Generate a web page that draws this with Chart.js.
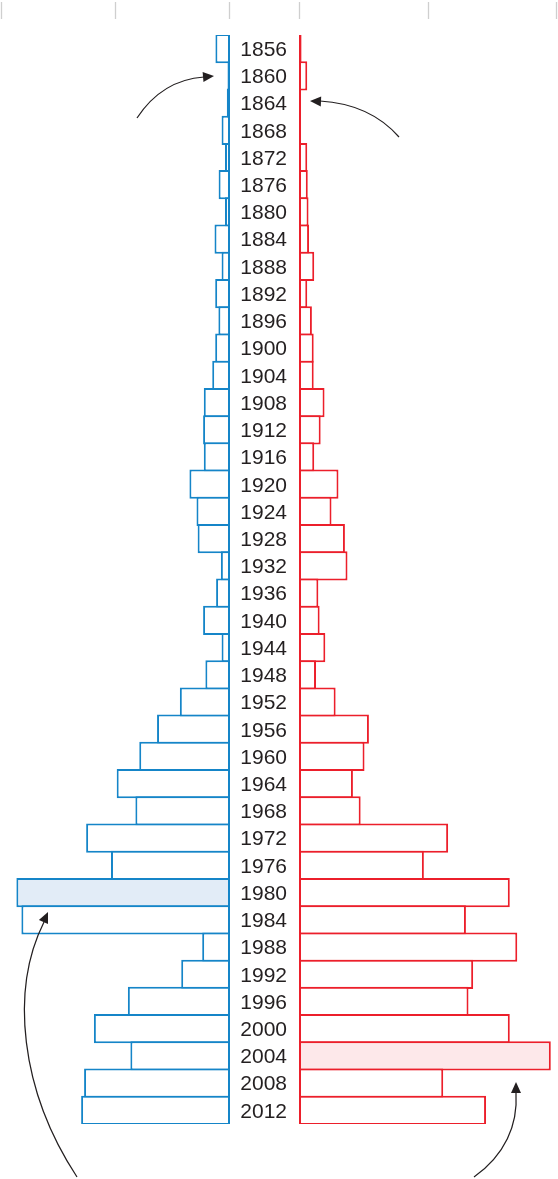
<!DOCTYPE html>
<html>
<head>
<meta charset="utf-8">
<script src="https://cdn.jsdelivr.net/npm/chart.js@4.4.1/dist/chart.umd.min.js"></script>
<style>
  html, body { margin: 0; padding: 0; background: #ffffff; }
  #wrap { position: relative; width: 558px; height: 1179px; overflow: hidden; }
  canvas { position: absolute; left: 0; top: 0; }
</style>
</head>
<body>
<div id="wrap">
  <canvas id="leftChart" width="558" height="1179"></canvas>
  <canvas id="rightChart" width="558" height="1179"></canvas>
</div>
<script>
// ---- Data ----
const years = ['1856','1860','1864','1868','1872','1876','1880','1884','1888','1892',
               '1896','1900','1904','1908','1912','1916','1920','1924','1928','1932',
               '1936','1940','1944','1948','1952','1956','1960','1964','1968','1972',
               '1976','1980','1984','1988','1992','1996','2000','2004','2008','2012'];

const blueValues = [6.4, 1.1, 1.4, 3.7, 2.2, 5.0, 2.2, 6.8, 3.7, 6.5,
                    5.1, 6.5, 7.8, 11.5, 11.8, 11.5, 17.8, 14.7, 14.2, 4.0,
                    6.1, 11.8, 3.7, 10.8, 22.0, 32.0, 39.8, 49.7, 41.5, 63.1,
                    52.2, 93.7, 91.5, 12.2, 21.4, 44.8, 59.7, 43.7, 64.0, 65.3];

const redValues = [1.0, 3.2, 0.8, 0.8, 3.2, 3.4, 3.7, 3.9, 5.9, 3.2,
                   5.0, 5.7, 5.7, 9.9, 8.4, 5.9, 15.3, 12.6, 17.8, 18.8,
                   7.5, 8.0, 10.2, 6.6, 14.2, 27.1, 25.4, 20.9, 23.9, 57.8,
                   48.4, 81.7, 64.7, 84.6, 67.5, 65.7, 81.7, 97.6, 55.9, 72.5];

const axisTickValues = [0, 50, 100];
const axisMax = 100;
const highlightBlueYear = '1980';
const highlightRedYear = '2004';

// ---- Styles ----
const BLUE = '#1585c8';
const BLUE_FILL = '#e2ecf7';
const RED = '#ec1f2b';
const RED_FILL = '#fde8ea';
const TEXT = '#231f20';
const TICK_GRAY = '#cfcfcf';

const barPct = (27.2 + 2) / 27.2;

// Small top tick marks at axis values, placed with the chart's own x scale
const topTicksPlugin = {
  id: 'topTicks',
  afterDraw(chart, args, opts) {
    const ctx = chart.ctx;
    const xs = chart.scales.x;
    const shift = (opts && opts.shift) || 0;
    ctx.save();
    ctx.strokeStyle = TICK_GRAY;
    ctx.lineWidth = 1.3;
    axisTickValues.forEach(v => {
      let px = Math.round(xs.getPixelForValue(v) + shift) + 0.5;
      px = Math.min(Math.max(px, 1.5), chart.width - 1.5);
      ctx.beginPath();
      ctx.moveTo(px, 2);
      ctx.lineTo(px, 19);
      ctx.stroke();
    });
    ctx.restore();
  }
};

function arrowHead(ctx, tipX, tipY, fromX, fromY) {
  const ang = Math.atan2(tipY - fromY, tipX - fromX);
  const len = 11, half = 5;
  ctx.beginPath();
  ctx.moveTo(tipX, tipY);
  ctx.lineTo(tipX - len * Math.cos(ang) + half * Math.sin(ang), tipY - len * Math.sin(ang) - half * Math.cos(ang));
  ctx.lineTo(tipX - len * Math.cos(ang) - half * Math.sin(ang), tipY - len * Math.sin(ang) + half * Math.cos(ang));
  ctx.closePath();
  ctx.fill();
}

// Annotation arrows (call-outs)
const arrowsPlugin = {
  id: 'arrows',
  afterDraw(chart) {
    const ctx = chart.ctx;
    ctx.save();
    ctx.strokeStyle = '#231f20';
    ctx.fillStyle = '#231f20';
    ctx.lineWidth = 1.25;
    // top-left arrow
    ctx.beginPath();
    ctx.moveTo(137, 118);
    ctx.quadraticCurveTo(162, 80, 204, 77);
    ctx.stroke();
    arrowHead(ctx, 214, 76, 190, 78);
    // top-right arrow
    ctx.beginPath();
    ctx.moveTo(399, 137);
    ctx.quadraticCurveTo(370, 104, 320, 101);
    ctx.stroke();
    arrowHead(ctx, 310, 101, 335, 102);
    // bottom-left arrow
    ctx.beginPath();
    ctx.moveTo(77, 1177);
    ctx.bezierCurveTo(20, 1090, 10, 990, 44, 922);
    ctx.stroke();
    arrowHead(ctx, 48, 912, 38, 934);
    // bottom-right arrow
    ctx.beginPath();
    ctx.moveTo(474, 1177);
    ctx.bezierCurveTo(505, 1155, 518, 1125, 516, 1093);
    ctx.stroke();
    arrowHead(ctx, 516, 1082, 516, 1100);
    ctx.restore();
  }
};

const commonBar = {
  categoryPercentage: 1,
  barPercentage: barPct,
  borderWidth: 2,
  borderSkipped: false,
};

new Chart(document.getElementById('leftChart'), {
  type: 'bar',
  data: {
    labels: years,
    datasets: [Object.assign({
      data: blueValues,
      borderColor: BLUE,
      backgroundColor: (c) => years[c.dataIndex] === highlightBlueYear ? BLUE_FILL : '#ffffff'
    }, commonBar)]
  },
  options: {
    indexAxis: 'y',
    responsive: false,
    animation: false,
    layout: { padding: { left: 2, right: 328, top: 35, bottom: 55 } },
    plugins: { legend: { display: false }, tooltip: { enabled: false }, topTicks: { shift: -1 } },
    scales: {
      x: { type: 'linear', min: 0, max: axisMax, reverse: true, display: false },
      y: { type: 'category', display: false }
    }
  },
  plugins: [topTicksPlugin]
});

new Chart(document.getElementById('rightChart'), {
  type: 'bar',
  data: {
    labels: years,
    datasets: [Object.assign({
      data: redValues,
      borderColor: RED,
      backgroundColor: (c) => years[c.dataIndex] === highlightRedYear ? RED_FILL : '#ffffff'
    }, commonBar)]
  },
  options: {
    indexAxis: 'y',
    responsive: false,
    animation: false,
    layout: { padding: { left: 229, right: 1, top: 35, bottom: 55 } },
    plugins: { legend: { display: false }, tooltip: { enabled: false }, topTicks: { shift: 0 } },
    scales: {
      x: { type: 'linear', min: 0, max: axisMax, display: false },
      y: {
        type: 'category',
        position: 'left',
        grid: { display: false, drawTicks: false },
        border: { display: false },
        afterFit: (s) => { s.width = 70; },
        ticks: {
          color: TEXT,
          padding: 12,
          labelOffset: 1.5,
          autoSkip: false,
          font: { family: "'Liberation Sans', Arial, sans-serif", size: 21 }
        }
      }
    }
  },
  plugins: [topTicksPlugin, arrowsPlugin]
});
</script>
</body>
</html>
